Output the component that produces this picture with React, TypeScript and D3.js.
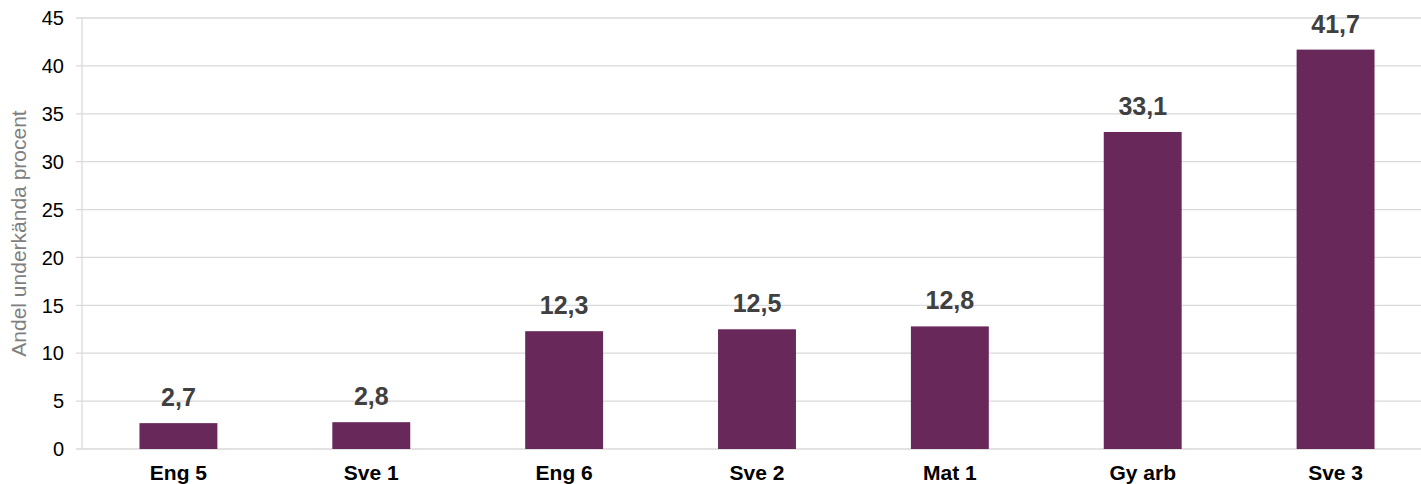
import React from "react";
import * as d3 from "d3";

const categories = ["Eng 5", "Sve 1", "Eng 6", "Sve 2", "Mat 1", "Gy arb", "Sve 3"];
const values = [2.7, 2.8, 12.3, 12.5, 12.8, 33.1, 41.7];
const yTicks = [0, 5, 10, 15, 20, 25, 30, 35, 40, 45];
const yTitle = "Andel underkända procent";

const W = 1421;
const H = 484;
const FONT = "'Liberation Sans', Arial, sans-serif";

export default function App() {
  const x = d3.scaleBand<string>().domain(categories).range([82, 1432]).paddingInner(0.596).paddingOuter(0.298);
  const y = d3.scaleLinear().domain([0, 45]).range([449, 18]);
  const fmt = (v: number) => v.toFixed(1).replace(".", ",");

  return (
    <svg width={W} height={H} style={{ position: "absolute", left: 0, top: 0, background: "#fff" }} fontFamily={FONT}>
      {yTicks.map((t) => (
        <g key={t}>
          <line x1={76} x2={W} y1={y(t)} y2={y(t)} stroke="#d9d9d9" strokeWidth={1.3} />
          <text x={64} y={y(t)} dy="0.36em" textAnchor="end" fontSize={20} fill="#000">
            {t}
          </text>
        </g>
      ))}
      <line x1={82} x2={82} y1={y(45)} y2={y(0)} stroke="#d9d9d9" strokeWidth={1.3} />
      {categories.map((c, i) => {
        const bx = x(c)!;
        const bw = x.bandwidth();
        const cx = bx + bw / 2;
        return (
          <g key={c}>
            <rect x={bx} y={y(values[i])} width={bw} height={y(0) - y(values[i])} fill="#69285a" />
            <text x={cx} y={y(values[i]) - 17} textAnchor="middle" fontSize={25} fontWeight="bold" fill="#404040">
              {fmt(values[i])}
            </text>
            <text x={cx} y={480} textAnchor="middle" fontSize={21} fontWeight="bold" fill="#000">
              {c}
            </text>
          </g>
        );
      })}
      <text
        transform={`translate(26, ${(y(0) + y(45)) / 2}) rotate(-90)`}
        textAnchor="middle"
        fontSize={21}
        fill="#7f7f7f"
      >
        {yTitle}
      </text>
    </svg>
  );
}
